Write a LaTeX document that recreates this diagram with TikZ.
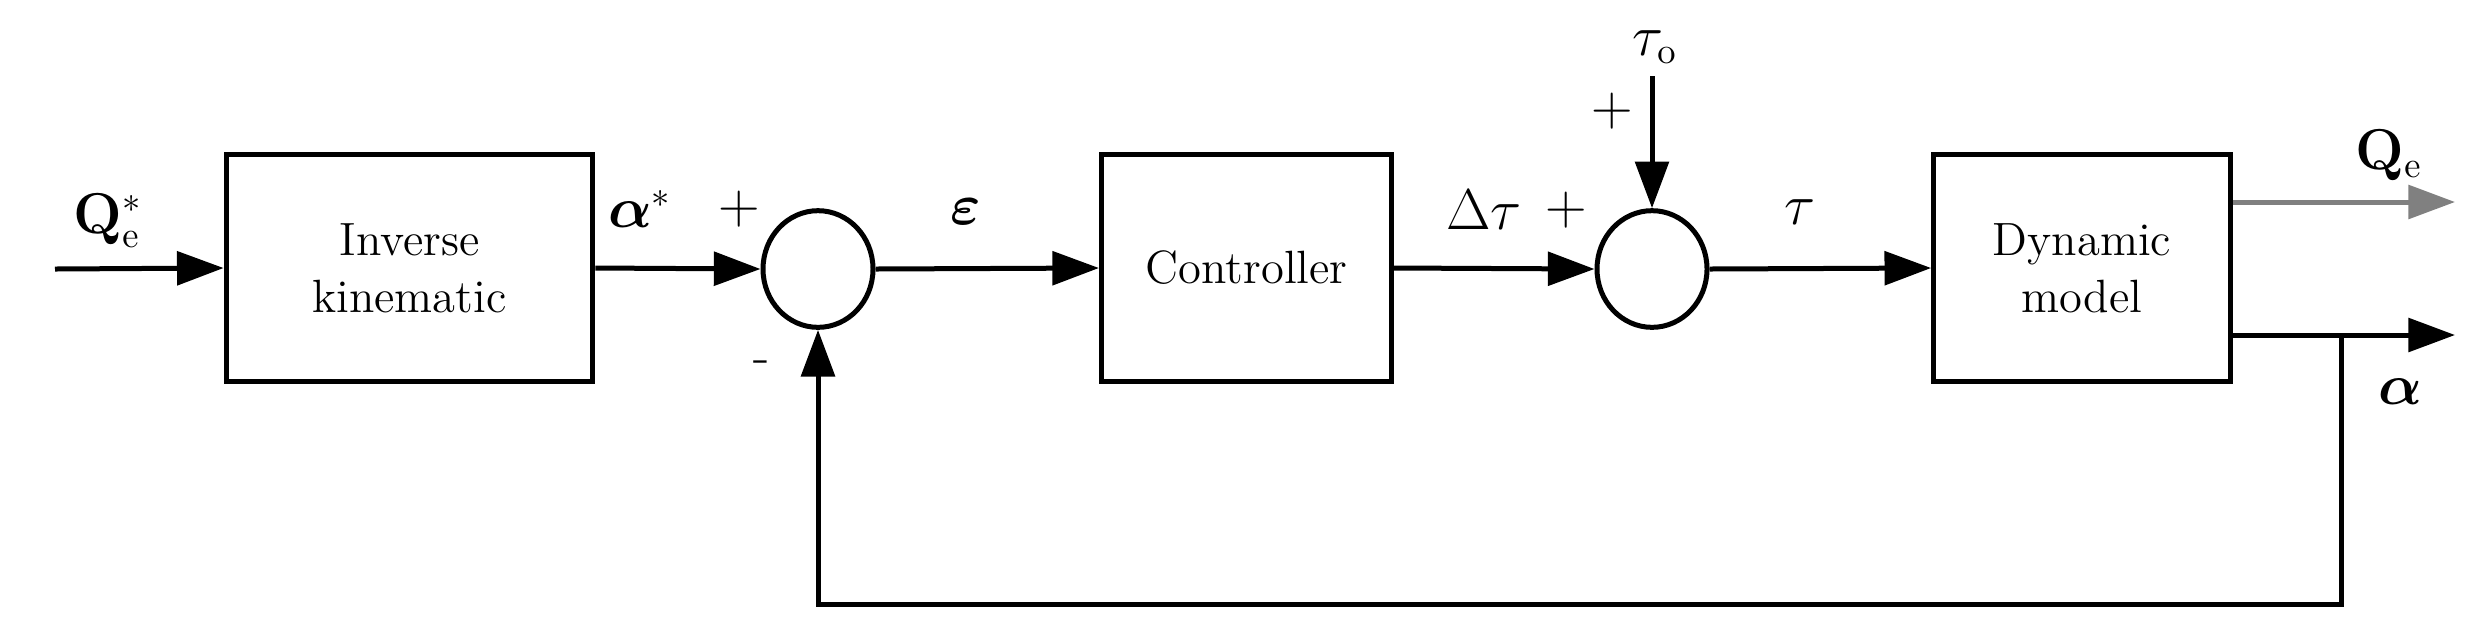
\documentclass[tikz,border=0pt]{standalone}
\usepackage{bm}
\usetikzlibrary{arrows.meta,shapes.geometric}
\begin{document}
\begin{tikzpicture}[x=0.3pt,y=-0.3pt,
  blk/.style={draw,line width=1.5pt,minimum width=88pt,minimum height=68pt,inner sep=0pt,align=center,font=\fontsize{14}{17}\selectfont},
  sum/.style={draw,ellipse,line width=1.5pt,minimum width=33pt,minimum height=35pt,inner sep=0pt},
  wire/.style={line width=1.5pt},
  arr/.style={wire,-{Triangle[length=14pt,width=10pt]}},
  lbl/.style={font=\fontsize{16}{18}\selectfont,inner sep=0pt}]
\useasboundingbox (0,0) rectangle (2468,638);
\node[blk,minimum width=110pt] (ik) at (409.5,268) {Inverse\\kinematic};
\node[blk,minimum width=87pt] (ctrl) at (1246.5,268) {Controller};
\node[blk,minimum width=89pt] (dyn) at (2082,268) {Dynamic\\model};
\node[sum] (s1) at (818,269) {};
\node[sum] (s2) at (1652,269) {};
\coordinate (in) at (55,269);
\coordinate (t0) at (1652,76);
\coordinate (qe) at (2455,202);
\coordinate (ao) at (2455,335);
\coordinate (fb1) at (2341,335);
\coordinate (fb2) at (2341,604);
\coordinate (fb3) at (818,604);
\draw[arr] (in) -- (ik.west);
\draw[arr] (ik.east) -- (s1.west);
\draw[arr] (s1.east) -- (ctrl.west);
\draw[arr] (ctrl.east) -- (s2.west);
\draw[arr] (s2.east) -- (dyn.west);
\draw[arr] (t0) -- (s2.north);
\draw[arr,gray] (dyn.east |- qe) -- (qe);
\draw[arr] (dyn.east |- ao) -- (ao);
\draw[arr] (fb1) -- (fb2) -- (fb3) -- (s1.south);
\node[lbl] (lq) at (108,221) {$\mathbf{Q}_{\mathrm{e}}^{*}$};
\node[lbl] (la) at (640,209) {$\bm{\alpha}^{*}$};
\node[lbl] (p1) at (739,209) {$+$};
\node[lbl] (m1) at (762,367) {-};
\node[lbl] (le) at (966,212) {$\bm{\varepsilon}$};
\node[lbl] (ld) at (1484,210) {$\Delta\tau$};
\node[lbl] (p2) at (1566,210) {$+$};
\node[lbl] (lt) at (1800,212) {$\tau$};
\node[lbl] (lt0) at (1655,47) {$\tau_{\mathrm{o}}$};
\node[lbl] (p3) at (1612,111) {$+$};
\node[lbl] (lqe) at (2389,155) {$\mathbf{Q}_{\mathrm{e}}$};
\node[lbl] (lal) at (2400,392) {$\bm{\alpha}$};
\end{tikzpicture}
\end{document}
